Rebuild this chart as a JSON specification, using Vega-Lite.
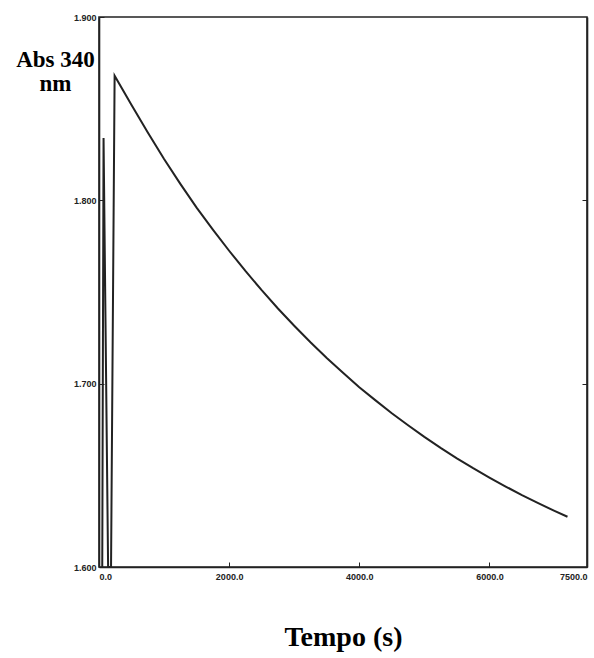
{
  "$schema": "https://vega.github.io/schema/vega-lite/v6.json",
  "width": 488,
  "height": 550,
  "autosize": {"type": "none"},
  "padding": {"left": 99, "top": 17, "right": 7, "bottom": 91},
  "background": "white",
  "config": {
    "view": {"stroke": "#222", "strokeWidth": 1.6},
    "axis": {"grid": false, "domainColor": "#222", "domainWidth": 1.6, "tickColor": "#222", "labelFont": "Liberation Sans", "labelFontWeight": "bold", "labelFontSize": 9, "labelColor": "#222"}
  },
  "data": {"values": [
    {"o": 1, "t": 50, "a": 1.600},
    {"o": 2, "t": 70, "a": 1.834},
    {"o": 3, "t": 140, "a": 1.600},
    {"o": 4, "t": 185, "a": 1.600},
    {"o": 5, "t": 240, "a": 1.868},
    {"o": 6, "t": 500, "a": 1.852},
    {"o": 7, "t": 750, "a": 1.837},
    {"o": 8, "t": 1000, "a": 1.8225},
    {"o": 9, "t": 1250, "a": 1.809},
    {"o": 10, "t": 1500, "a": 1.796},
    {"o": 11, "t": 1750, "a": 1.784},
    {"o": 12, "t": 2000, "a": 1.7725},
    {"o": 13, "t": 2250, "a": 1.7615},
    {"o": 14, "t": 2500, "a": 1.751},
    {"o": 15, "t": 2750, "a": 1.741},
    {"o": 16, "t": 3000, "a": 1.7316},
    {"o": 17, "t": 3250, "a": 1.7226},
    {"o": 18, "t": 3500, "a": 1.714},
    {"o": 19, "t": 3750, "a": 1.706},
    {"o": 20, "t": 4000, "a": 1.698},
    {"o": 21, "t": 4250, "a": 1.6909},
    {"o": 22, "t": 4500, "a": 1.6839},
    {"o": 23, "t": 4750, "a": 1.6773},
    {"o": 24, "t": 5000, "a": 1.671},
    {"o": 25, "t": 5250, "a": 1.665},
    {"o": 26, "t": 5500, "a": 1.6593},
    {"o": 27, "t": 5750, "a": 1.6539},
    {"o": 28, "t": 6000, "a": 1.6488},
    {"o": 29, "t": 6250, "a": 1.6439},
    {"o": 30, "t": 6500, "a": 1.6392},
    {"o": 31, "t": 6750, "a": 1.6348},
    {"o": 32, "t": 7000, "a": 1.6306},
    {"o": 33, "t": 7200, "a": 1.6274}
  ]},
  "layer": [
    {
      "mark": {"type": "line", "color": "#222", "strokeWidth": 2},
      "encoding": {
        "x": {"field": "t", "type": "quantitative", "scale": {"domain": [0, 7500], "nice": false},
          "axis": {"values": [0, 2000, 4000, 6000, 7500], "format": ".1f", "tickSize": -5, "labelPadding": 10,
            "title": "Tempo (s)", "titleFont": "Liberation Serif", "titleFontSize": 28, "titleFontWeight": "bold", "titleColor": "black",
            "titleAnchor": "middle", "titleBaseline": "alphabetic", "titleY": 78}},
        "y": {"field": "a", "type": "quantitative", "scale": {"domain": [1.6, 1.9], "nice": false, "zero": false},
          "axis": {"values": [1.6, 1.7, 1.8, 1.9], "format": ".3f", "tickSize": -5, "labelPadding": 8,
            "title": ["Abs 340", "nm"], "titleFont": "Liberation Serif", "titleFontSize": 23, "titleFontWeight": "bold", "titleColor": "black",
            "titleAngle": 0, "titleAlign": "center", "titleBaseline": "alphabetic", "titleX": -44, "titleY": 49, "titleLineHeight": 24}},
        "order": {"field": "o", "type": "quantitative"}
      }
    },
    {
      "mark": {"type": "line", "opacity": 0},
      "encoding": {
        "x": {"field": "t", "type": "quantitative", "scale": {"domain": [0, 7500], "nice": false},
          "axis": {"values": [0, 2000, 4000, 6000, 7500], "format": ".1f", "tickSize": -5, "labelPadding": 10,
            "title": "Tempo (s)", "titleFont": "Liberation Serif", "titleFontSize": 28, "titleFontWeight": "bold", "titleColor": "black",
            "titleAnchor": "middle", "titleBaseline": "alphabetic", "titleY": 78}},
        "y": {"field": "a", "type": "quantitative", "scale": {"domain": [1.6, 1.9], "nice": false, "zero": false},
          "axis": {"orient": "right", "values": [1.7, 1.8], "tickSize": -5, "labels": false, "title": null}}
      }
    }
  ],
  "resolve": {"axis": {"y": "independent"}}
}
